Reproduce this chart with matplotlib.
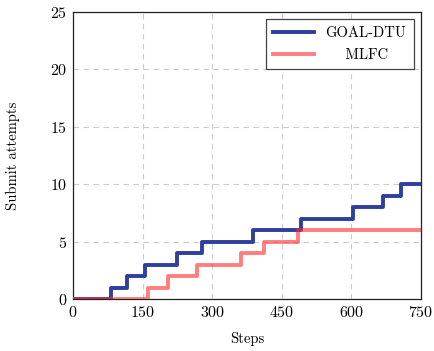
import matplotlib
matplotlib.use("Agg")
import matplotlib.pyplot as plt

plt.rcParams["font.family"] = "serif"
plt.rcParams["font.serif"] = ["cmr10", "DejaVu Serif"]
plt.rcParams["axes.formatter.use_mathtext"] = True
plt.rcParams["mathtext.fontset"] = "cm"

# Steps at which the cumulative submit count increases, and the count after it
goal_steps = [0, 82, 116, 156, 225, 279, 387, 492, 603, 669, 706, 750]
goal_counts = [0, 1, 2, 3, 4, 5, 6, 7, 8, 9, 10, 10]
mlfc_steps = [0, 162, 205, 267, 362, 412, 485, 750]
mlfc_counts = [0, 1, 2, 3, 4, 5, 6, 6]

x_ticks = [0, 150, 300, 450, 600, 750]
y_ticks = [0, 5, 10, 15, 20, 25]

fig = plt.figure(figsize=(4.35, 3.51), dpi=100)
ax = fig.add_axes([73 / 435, 1 - 299 / 351, 348 / 435, 287 / 351])

ax.step(goal_steps, goal_counts, where="post", color="#2e3f9e", lw=2.8,
        label="GOAL-DTU", zorder=3)
ax.step(mlfc_steps, mlfc_counts, where="post", color="#ff2a2a", alpha=0.6,
        lw=2.8, label="    MLFC", zorder=4)

ax.set_xlim(0, 750)
ax.set_ylim(0, 25)
ax.set_xticks(x_ticks)
ax.set_yticks(y_ticks)
ax.tick_params(length=0, labelsize=11.5, pad=4)
ax.grid(True, linestyle=(0, (5, 4)), color="#cccccc", lw=0.8)
ax.set_axisbelow(True)
for s in ax.spines.values():
    s.set_linewidth(0.9)
    s.set_color("#222222")

ax.set_xlabel("Steps", fontsize=10.5, labelpad=9)
ax.set_ylabel("Submit attempts", fontsize=10.5, labelpad=22)

leg = ax.legend(loc="upper right", fontsize=10.5, frameon=True, fancybox=False,
                edgecolor="#444444", framealpha=1, handlelength=2.8,
                borderaxespad=0.5, labelspacing=0.55, borderpad=0.5)
leg.get_frame().set_linewidth(0.9)

fig.savefig("out.png", dpi=100)
